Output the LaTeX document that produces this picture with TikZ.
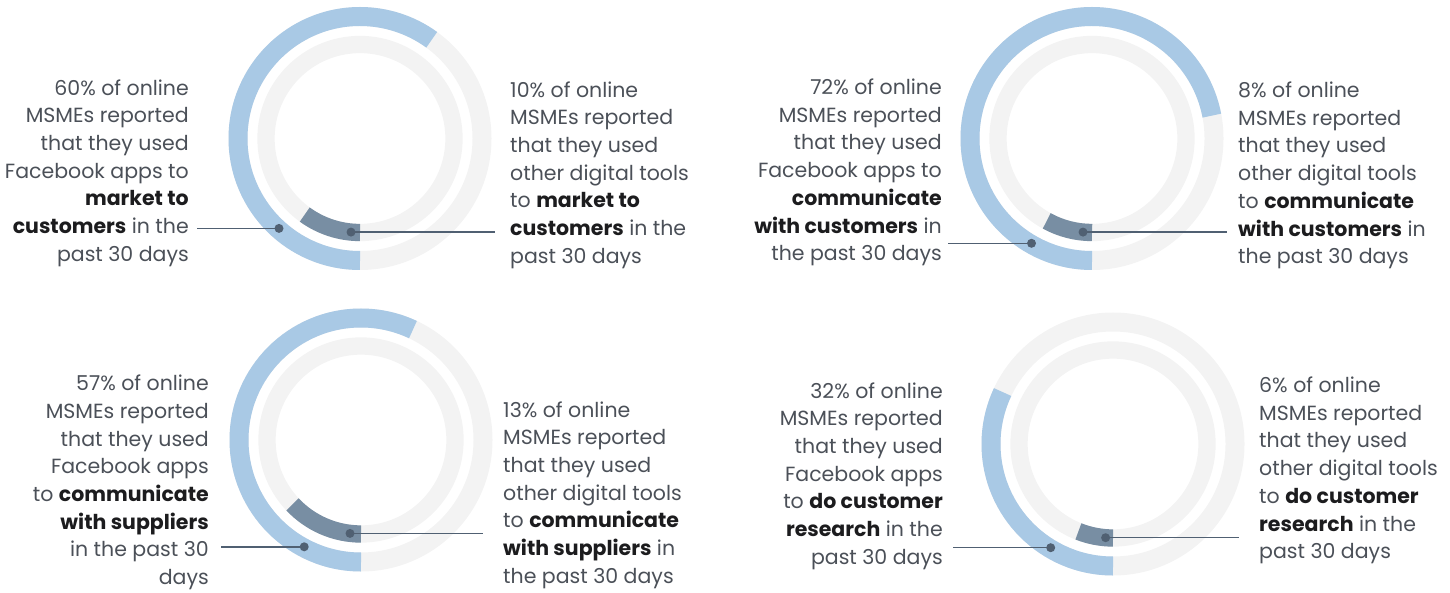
\documentclass[tikz,border=0pt]{standalone}
\usepackage{fontspec}
\setmainfont{Poppins}
\definecolor{ringgray}{RGB}{243,243,243}
\definecolor{fbblue}{RGB}{169,201,229}
\definecolor{toolslate}{RGB}{120,142,163}
\definecolor{dotgray}{RGB}{80,96,114}
\definecolor{txtgray}{RGB}{75,80,88}
\definecolor{boldink}{RGB}{28,28,30}
\newcommand{\hlb}[1]{\textcolor{boldink}{\textbf{#1}}}
\begin{document}
\begin{tikzpicture}[x=1pt,y=-1pt,
  outerring/.style={line width=19pt},
  innerring/.style={line width=17.3pt},
  dot/.style={circle,fill=dotgray,inner sep=0pt,minimum size=9pt},
  leader/.style={draw=dotgray,line width=1.5pt},
  lefttext/.style={anchor=east,align=right,inner sep=0pt,text=txtgray,font=\fontsize{20.5}{27.7}\selectfont},
  righttext/.style={anchor=west,align=left,inner sep=0pt,text=txtgray,font=\fontsize{20.5}{27.7}\selectfont}]
\useasboundingbox (0,0) rectangle (1450,593);

\coordinate (c1) at (360,138.5);
\coordinate (c2) at (1092,138.5);
\coordinate (c3) at (361,440);
\coordinate (c4) at (1113,444);

% grey tracks
\draw[outerring,ringgray] (c1) circle (122);
\draw[innerring,ringgray] (c1) circle (94);
\draw[outerring,ringgray] (c2) circle (122);
\draw[innerring,ringgray] (c2) circle (94);
\draw[outerring,ringgray] (c3) circle (122);
\draw[innerring,ringgray] (c3) circle (94);
\draw[outerring,ringgray] (c4) circle (122);
\draw[innerring,ringgray] (c4) circle (94);

% shares, clockwise from the bottom
\draw[outerring,fbblue] (c1) ++(90:122) arc[start angle=90,end angle=306,radius=122];
\draw[innerring,toolslate] (c1) ++(90:94) arc[start angle=90,end angle=126,radius=94];
\draw[outerring,fbblue] (c2) ++(90:122) arc[start angle=90,end angle=349.2,radius=122];
\draw[innerring,toolslate] (c2) ++(90:94) arc[start angle=90,end angle=118.8,radius=94];
\draw[outerring,fbblue] (c3) ++(90:122) arc[start angle=90,end angle=295.2,radius=122];
\draw[innerring,toolslate] (c3) ++(90:94) arc[start angle=90,end angle=136.8,radius=94];
\draw[outerring,fbblue] (c4) ++(90:122) arc[start angle=90,end angle=205.2,radius=122];
\draw[innerring,toolslate] (c4) ++(90:94) arc[start angle=90,end angle=111.6,radius=94];

\node[lefttext] (fb1) at (189,173) {60\% of online\\MSMEs reported\\that they used\\Facebook apps to\\\hlb{market to}\\\hlb{customers} in the\\past 30 days};
\node[righttext] (tool1) at (510,175) {10\% of online\\MSMEs reported\\that they used\\other digital tools\\to \hlb{market to}\\\hlb{customers} in the\\past 30 days};
\node[lefttext] (fb2) at (942,172.5) {72\% of online\\MSMEs reported\\that they used\\Facebook apps to\\\hlb{communicate}\\\hlb{with customers} in\\the past 30 days};
\node[righttext] (tool2) at (1238,175.5) {8\% of online\\MSMEs reported\\that they used\\other digital tools\\to \hlb{communicate}\\\hlb{with customers} in\\the past 30 days};
\node[lefttext] (fb3) at (209,482.5) {57\% of online\\MSMEs reported\\that they used\\Facebook apps\\to \hlb{communicate}\\\hlb{with suppliers}\\in the past 30\\days};
\node[righttext] (tool3) at (503,495) {13\% of online\\MSMEs reported\\that they used\\other digital tools\\to \hlb{communicate}\\\hlb{with suppliers} in\\the past 30 days};
\node[lefttext] (fb4) at (943,476) {32\% of online\\MSMEs reported\\that they used\\Facebook apps\\to \hlb{do customer}\\\hlb{research} in the\\past 30 days};
\node[righttext] (tool4) at (1259,470.5) {6\% of online\\MSMEs reported\\that they used\\other digital tools\\to \hlb{do customer}\\\hlb{research} in the\\past 30 days};

\node[dot] (fbdot1) at (279,228.4) {};
\node[dot] (tooldot1) at (351,232.1) {};
\node[dot] (fbdot2) at (1031.5,243.3) {};
\node[dot] (tooldot2) at (1083,232.1) {};
\node[dot] (fbdot3) at (304.2,546.8) {};
\node[dot] (tooldot3) at (350,533.4) {};
\node[dot] (fbdot4) at (1050.7,547.7) {};
\node[dot] (tooldot4) at (1105.6,537.7) {};

\coordinate (fbend1) at (197,228.4);
\coordinate (toolend1) at (495,232.1);
\coordinate (fbend2) at (948,243.3);
\coordinate (toolend2) at (1227,232.1);
\coordinate (fbend3) at (221,546.8);
\coordinate (toolend3) at (483,533.4);
\coordinate (fbend4) at (953,547.7);
\coordinate (toolend4) at (1239,537.7);

\draw[leader] (fbdot1.center) -- (fbend1);
\draw[leader] (tooldot1.center) -- (toolend1);
\draw[leader] (fbdot2.center) -- (fbend2);
\draw[leader] (tooldot2.center) -- (toolend2);
\draw[leader] (fbdot3.center) -- (fbend3);
\draw[leader] (tooldot3.center) -- (toolend3);
\draw[leader] (fbdot4.center) -- (fbend4);
\draw[leader] (tooldot4.center) -- (toolend4);
\end{tikzpicture}
\end{document}
